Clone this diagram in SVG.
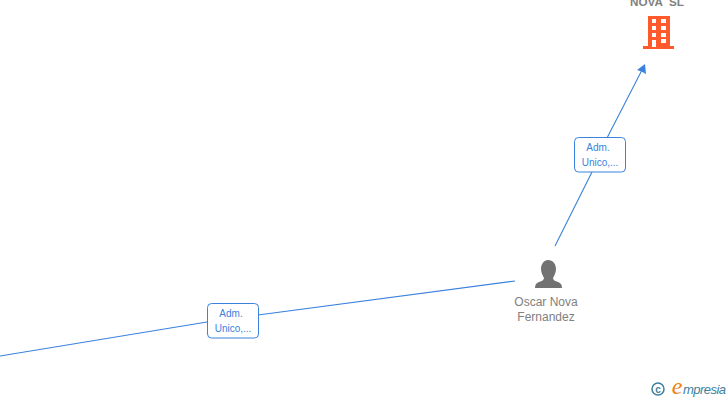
<svg xmlns="http://www.w3.org/2000/svg" width="728" height="400" viewBox="0 0 728 400">
<style>
.edge{fill:none;stroke:#3a82de;stroke-width:1.1}
.lb{fill:#fff;stroke:#3a82de;stroke-width:1}
.lt{font:10px "Liberation Sans",Arial,sans-serif;fill:#3a82de;text-anchor:middle}
.nt{font:12px "Liberation Sans",Arial,sans-serif;fill:#808080;text-anchor:middle}
</style>
<rect width="728" height="400" fill="#fff"/>
<g id="connectors">
<path class="edge" d="M0 356L207 322M258 315L515 281"/>
<path class="edge" d="M555 246L592 172M607 138L642 70"/>
<path d="M645 64L646 74L641.500 71.500L637 70Z" fill="#3a82de"/>
</g>
<g id="edge-label-1">
<rect class="lb" x="207.500" y="303.500" width="51" height="34.500" rx="4"/>
<text class="lt" x="231" y="317">Adm.</text>
<text class="lt" x="233" y="332">Unico,...</text>
</g>
<g id="edge-label-2">
<rect class="lb" x="574.500" y="137.500" width="51" height="34.500" rx="4"/>
<text class="lt" x="598" y="151">Adm.</text>
<text class="lt" x="600" y="166">Unico,...</text>
</g>
<g id="node-nova">
<text x="657" y="6" font-family="Liberation Sans,Arial,sans-serif" font-size="11.700" font-weight="bold" fill="#808080" text-anchor="middle" xml:space="preserve">NOVA  SL</text>
<path fill="#ff5a2b" fill-rule="evenodd" d="M648 16H670V46H674V49H643V46H648ZM652 19V23H656V19ZM661 19V23H666V19ZM652 26V30H656V26ZM661 26V30H666V26ZM652 33V37H656V33ZM661 33V37H666V33ZM652 40V47H656V40ZM661 39V43H666V39Z"/>
</g>
<g id="node-oscar">
<path fill="#727272" d="M548 260C553 260 556 264 556 269C556 273 554 276 553 278C553 280 555 281 558 282C561 283 562 285 562 288H535C535 285 536 283 539 282C542 281 544 280 544 278C543 276 541 273 541 269C541 264 544 260 548 260Z"/>
<text class="nt" x="546" y="306">Oscar Nova</text>
<text class="nt" x="546" y="321">Fernandez</text>
</g>
<g id="logo">
<circle cx="658" cy="389" r="6" fill="none" stroke="#3d7f9c" stroke-width="1.500"/>
<text x="658" y="392.500" font-family="Liberation Sans,Arial,sans-serif" font-size="10" font-weight="bold" fill="#3d7f9c" text-anchor="middle">c</text>
<text x="677" y="394" font-family="Liberation Serif,serif" font-style="italic" font-size="24" fill="#f08010" text-anchor="middle">e</text>
<text x="683" y="394" font-family="Liberation Sans,sans-serif" font-style="italic" font-size="13" fill="#3d7f9c" textLength="43">mpresia</text>
</g>
</svg>
